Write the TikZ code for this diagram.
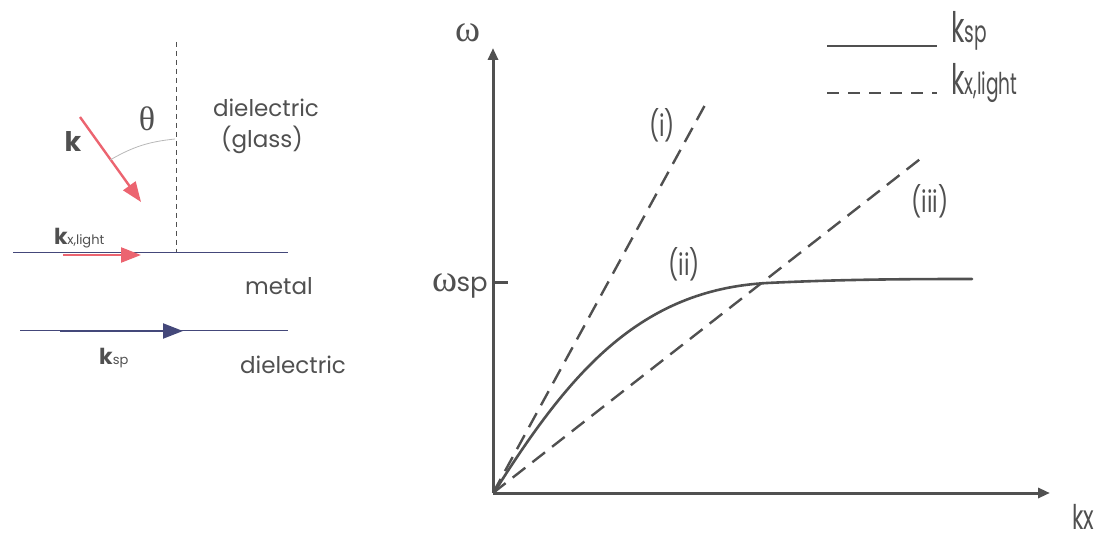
\documentclass[tikz,border=0pt]{standalone}
\usepackage{fontspec}
\setmainfont{Poppins}
\newfontfamily\grk{Liberation Serif}
\usetikzlibrary{arrows.meta}
\definecolor{ink}{HTML}{505050}
\definecolor{redk}{HTML}{EC6470}
\definecolor{bluel}{HTML}{44487A}
\definecolor{arcg}{HTML}{B8B8B8}
\tikzset{
  lbl/.style={text=ink, inner sep=0pt, font=\fontsize{23}{23}\selectfont},
  glbl/.style={text=ink, inner sep=0pt},
  plbl/.style={text=ink, inner sep=0pt, font=\fontsize{30}{30}\selectfont, xscale=0.75},
  iface/.style={draw=bluel, line width=1pt},
  normal/.style={draw=ink, line width=1pt, dash pattern=on 5pt off 4pt},
  redarrow/.style={draw=redk, line width=2.4pt, -{Triangle[length=20pt,width=15pt]}},
  bluearrow/.style={draw=bluel, line width=2.2pt, -{Triangle[length=20pt,width=15pt]}},
  axis/.style={draw=ink, line width=3pt, -{Triangle[length=12pt,width=10pt]}},
  curvel/.style={draw=ink, line width=2.6pt, line cap=round},
  dashl/.style={draw=ink, line width=2.4pt, dash pattern=on 16pt off 9pt},
}
\begin{document}
\begin{tikzpicture}[x=1pt,y=-1pt]
\useasboundingbox (0,0) rectangle (1104,540);
% ---------- left sketch ----------
\coordinate (ntop) at (176,42);
\coordinate (nbot) at (176,253);
\coordinate (i1a) at (13,253);
\coordinate (i1b) at (288,253);
\coordinate (i2a) at (20,331);
\coordinate (i2b) at (288,331);
\coordinate (ks) at (80,117);
\coordinate (ke) at (141,202);
\coordinate (kls) at (63,255);
\coordinate (kle) at (141,255);
\coordinate (sps) at (60,331);
\coordinate (spe) at (183,331);
\coordinate (arcA) at (110,160);
\coordinate (arcB) at (175,139);
\draw[normal] (ntop) -- (nbot);
\draw[iface] (i1a) -- (i1b);
\draw[iface] (i2a) -- (i2b);
\draw[redarrow] (ks) -- (ke);
\draw[redarrow] (kls) -- (kle);
\draw[bluearrow] (sps) -- (spe);
\draw[arcg, line width=0.8pt] (arcA) to[bend left=12] (arcB);
\node[glbl, font=\fontsize{27}{27}\selectfont\bfseries] (k) at (73,142) {k};
\node[glbl, font=\grk\fontsize{34}{34}\selectfont] (th) at (147,119) {θ};
\node[lbl] (d1) at (266,108) {dielectric};
\node[lbl] (g1) at (262,140) {(glass)};
\node[glbl, anchor=base west] (kxl) at (54,245) {\fontsize{22}{22}\selectfont\bfseries k\fontsize{13}{13}\selectfont\mdseries\kern-0.5pt x,light};
\node[lbl] (met) at (279,286) {metal};
\node[glbl, anchor=base west] (ksp) at (99,364) {\fontsize{22}{22}\selectfont\bfseries k\fontsize{13}{13}\selectfont\mdseries sp};
\node[lbl] (d2) at (293,365) {dielectric};
% ---------- graph ----------
\coordinate (O) at (493,493);
\coordinate (ytop) at (493,48);
\coordinate (xend) at (1050,493);
\coordinate (tk) at (508,283);
\coordinate (iend) at (705,105);
\coordinate (iiiend) at (924,156);
\coordinate (cs) at (495,491);
\coordinate (cm) at (767,283);
\coordinate (ce) at (972,279);
\draw[axis] (O) -- (ytop);
\draw[axis] (O) -- (xend);
\draw[draw=ink, line width=3pt] (O |- tk) -- (tk);
\draw[dashl] (O) -- (iend);
\draw[dashl] (O) -- (iiiend);
\draw[curvel] (cs) .. controls (570,372) and (640,290) .. (cm)
  .. controls (840,279.5) and (900,279) .. (ce);
\node[glbl, font=\grk\fontsize{38}{38}\selectfont] (om) at (468,33) {ω};
\node[glbl, anchor=base east] (omsp) at (488,292) {{\grk\fontsize{38}{38}\selectfont ω}{\fontsize{26}{26}\selectfont\kern-1pt sp}};
\node[glbl, font=\fontsize{34}{34}\selectfont, xscale=0.65] (kx) at (1083,517) {kx};
\node[plbl] (li) at (662,125) {(i)};
\node[plbl] (lii) at (684,264) {(ii)};
\node[plbl] (liii) at (930,201) {(iii)};
% ---------- legend ----------
\coordinate (l1a) at (827,46);
\coordinate (l1b) at (937,46);
\coordinate (l2a) at (827,93);
\coordinate (l2b) at (937,93);
\draw[curvel, line width=2.4pt, line cap=butt] (l1a) -- (l1b);
\draw[dashl, dash pattern=on 12pt off 9pt] (l2a) -- (l2b);
\node[glbl, anchor=base west, xscale=0.62] (lg1) at (951,43) {\fontsize{42}{42}\selectfont k\fontsize{30}{30}\selectfont sp};
\node[glbl, anchor=base west, xscale=0.62] (lg2) at (951,95) {\fontsize{42}{42}\selectfont k\fontsize{30}{30}\selectfont x,light};
\end{tikzpicture}
\end{document}
